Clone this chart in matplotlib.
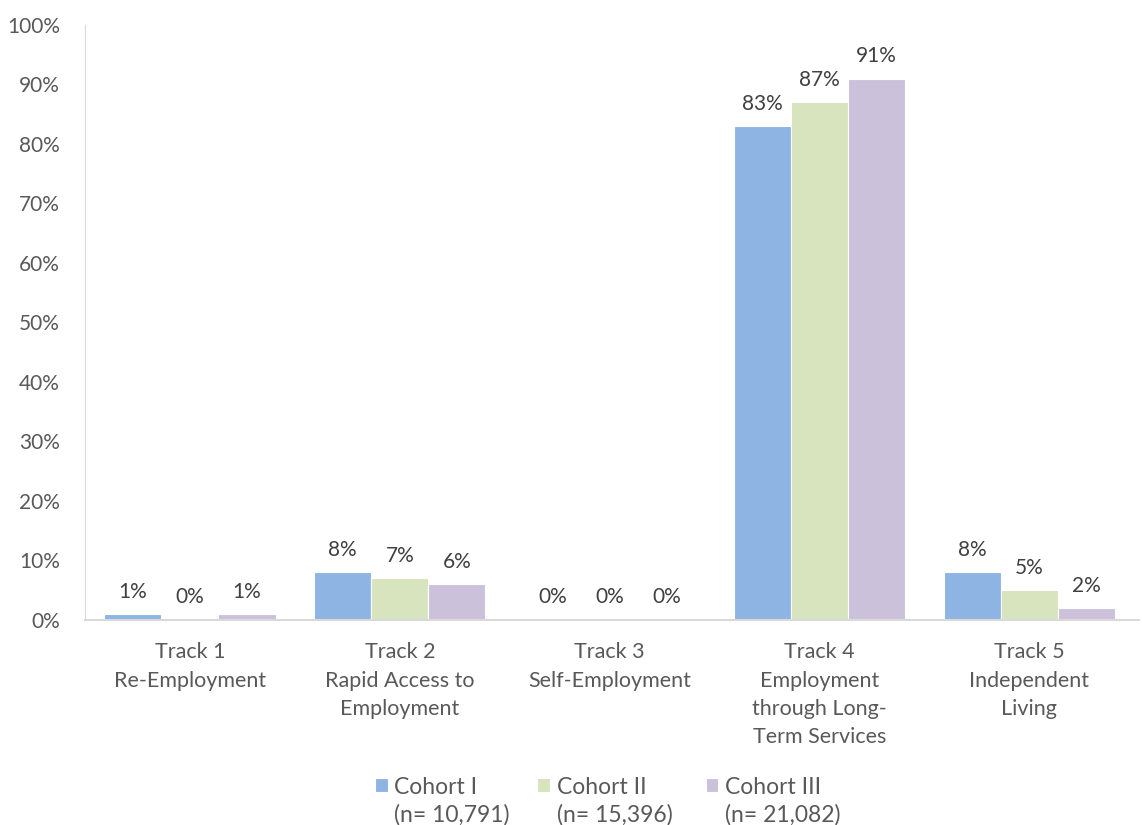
import numpy as np
import matplotlib.pyplot as plt

tracks = ['Track 1\nRe-Employment',
          'Track 2\nRapid Access to\nEmployment',
          'Track 3\nSelf-Employment',
          'Track 4\nEmployment\nthrough Long-\nTerm Services',
          'Track 5\nIndependent\nLiving']
cohorts = ['Cohort I', 'Cohort II', 'Cohort III']
cohort_n = ['(n= 10,791)', '(n= 15,396)', '(n= 21,082)']
cohort_1 = [1, 8, 0, 83, 8]
cohort_2 = [0, 7, 0, 87, 5]
cohort_3 = [1, 6, 0, 91, 2]
values = [cohort_1, cohort_2, cohort_3]
colors = ['#8EB4E3', '#D7E4BD', '#CCC1DA']
yticks = list(range(0, 101, 10))

plt.rcParams['font.family'] = ['Lato', 'DejaVu Sans']
txt = '#595959'
fs = 15
leg_fs = 16.5

fig = plt.figure(figsize=(11.42, 8.25), dpi=100)
ax = fig.add_axes([0.0744, 0.2485, 0.9226, 0.7212])

x = np.arange(len(tracks))
w = 0.272
for i, vals in enumerate(values):
    bars = ax.bar(x + (i - 1) * w, vals, w, color=colors[i],
                  edgecolor='white', linewidth=0.8, label=cohorts[i])
    ax.bar_label(bars, labels=[f'{v}%' for v in vals], padding=9,
                 fontsize=fs, color='#404040')

ax.set_xlim(-0.5, 4.52)
ax.set_ylim(0, 100)
ax.set_yticks(yticks)
ax.set_yticklabels([f'{t}%' for t in yticks])
ax.set_xticks(x)
ax.set_xticklabels(tracks, linespacing=1.52)
ax.tick_params(axis='both', length=0, labelsize=fs, labelcolor=txt)
ax.tick_params(axis='x', labelsize=15.5, pad=16)
ax.tick_params(axis='y', pad=18)
for s in ['top', 'right']:
    ax.spines[s].set_visible(False)
ax.spines['left'].set_color('#D9D9D9')
ax.spines['bottom'].set_color('#D9D9D9')
ax.spines['bottom'].set_linewidth(1.5)

leg = fig.legend(loc='center left', bbox_to_anchor=(375 / 1142, 1 - 787 / 825), ncol=3,
                 frameon=False, fontsize=leg_fs, handlelength=0.55, handleheight=0.55,
                 handletextpad=0.3, columnspacing=2.6, labelcolor=txt,
                 borderpad=0, borderaxespad=0)

fig.canvas.draw()
inv = fig.transFigure.inverted()
for t, n in zip(leg.get_texts(), cohort_n):
    bb = t.get_window_extent()
    x0, y0 = inv.transform((bb.x0, bb.y0))
    fig.text(x0, y0 - 0.008, n, ha='left', va='top', fontsize=leg_fs, color=txt)

fig.savefig('out.png', dpi=100)
